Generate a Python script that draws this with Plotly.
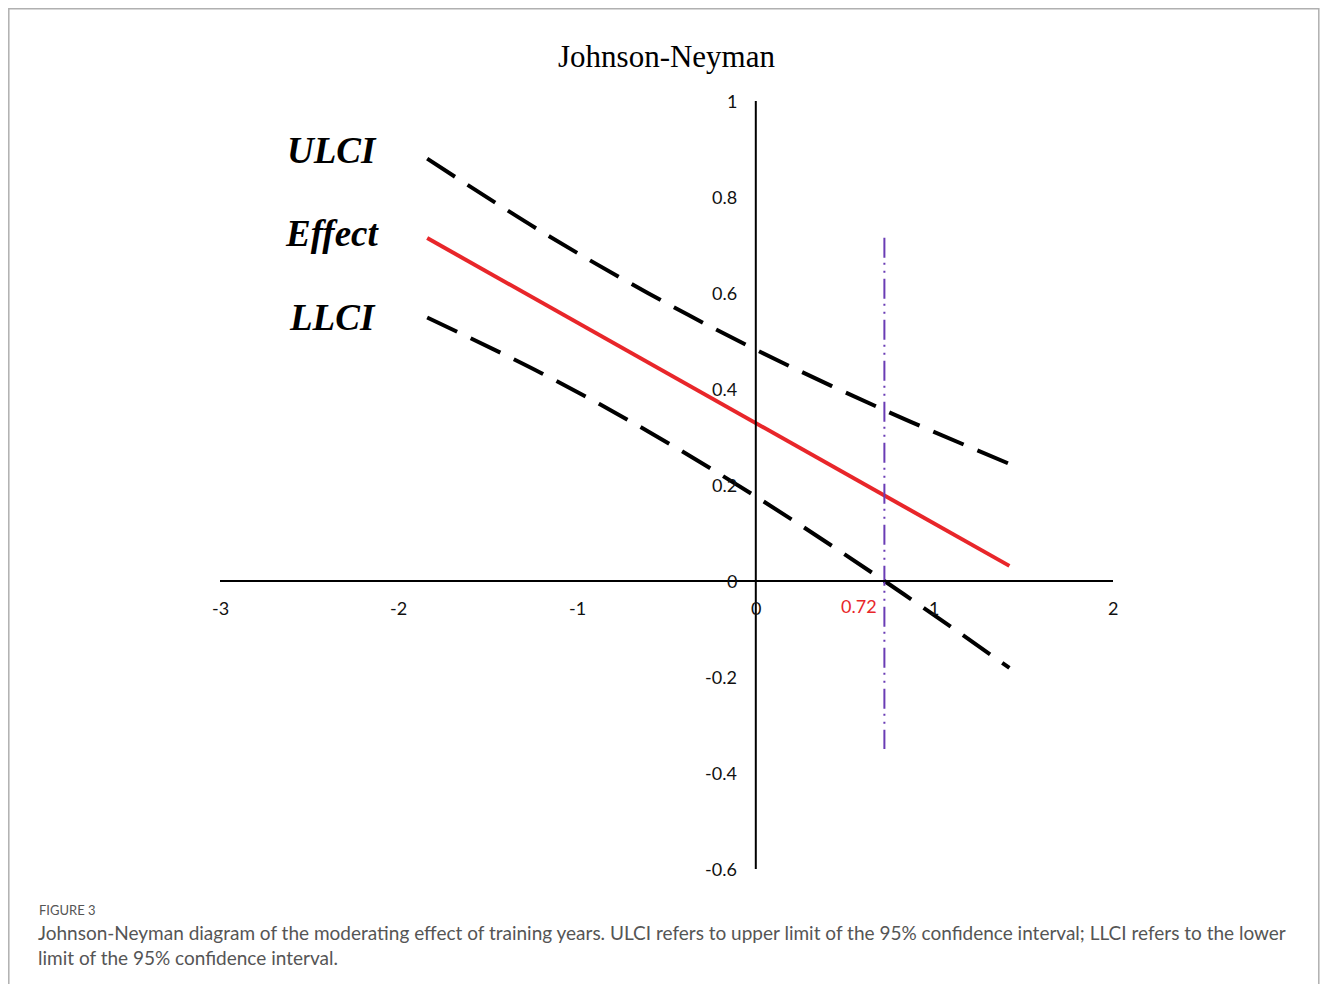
import plotly.graph_objects as go

# ---- data ----
moderator = [-1.84, -1.2, -0.6, 0.0, 0.72, 1.42]
effect = [0.7145, 0.5804, 0.4547, 0.329, 0.178, 0.0315]
ulci = [0.880, 0.728, 0.599, 0.482, 0.356, 0.244]
llci = [0.549, 0.433, 0.311, 0.176, 0.000, -0.181]
jn_point = 0.72
jn_line_y = [0.715, -0.35]
x_ticks = [-3, -2, -1, 0, 1, 2]
y_ticks = [1, 0.8, 0.6, 0.4, 0.2, 0, -0.2, -0.4, -0.6]
y_tick_labels = ["1", "0.8", "0.6", "0.4", "0.2", "0", "-0.2", "-0.4", "-0.6"]
series_labels = ["ULCI", "Effect", "LLCI"]
label_y = [0.8975, 0.725, 0.55]

# ---- layout geometry (reference pixels) ----
OFF = 8
W, H = 1328 - 2 * OFF, 992 - 2 * OFF
PL, PR, PT, PB = 220, 1113, 101, 869  # plot area in reference px
ml, mt = PL - OFF, PT - OFF
pw, ph = PR - PL, PB - PT
mr = W - ml - pw
mb = H - mt - ph


def px(xr):
    return (xr - PL) / pw


def py(yr):
    return (PB - yr) / ph


RED = "#e8262a"
PURPLE = "#6a3cb5"
TICKFONT = dict(family="Lato, Carlito, sans-serif", size=18, color="#111")

fig = go.Figure()
fig.add_trace(go.Scatter(x=moderator, y=ulci, mode="lines", line=dict(color="black", width=4, dash="33px,15px", shape="spline"), hoverinfo="skip"))
fig.add_trace(go.Scatter(x=moderator, y=effect, mode="lines", line=dict(color=RED, width=4), hoverinfo="skip"))
fig.add_trace(go.Scatter(x=moderator, y=llci, mode="lines", line=dict(color="black", width=4, dash="33px,15px", shape="spline"), hoverinfo="skip"))
fig.add_trace(go.Scatter(x=[jn_point, jn_point], y=jn_line_y, mode="lines", line=dict(color=PURPLE, width=2, dash="20px,5px,2px,6px,2px,6px"), hoverinfo="skip"))

shapes = [
    dict(type="line", xref="x", yref="y", x0=x_ticks[0], x1=x_ticks[-1], y0=0, y1=0, line=dict(color="black", width=2)),
    dict(type="line", xref="x", yref="y", x0=0, x1=0, y0=y_ticks[-1], y1=y_ticks[0], line=dict(color="black", width=2)),
    dict(type="path", xref="paper", yref="paper",
         path=f"M {px(8.8)},{py(1010)} L {px(8.8)},{py(8.8)} L {px(1318.8)},{py(8.8)} L {px(1318.8)},{py(1010)}",
         line=dict(color="#b0b0b0", width=1.5)),
]

ann = []
for v in x_ticks:
    ann.append(dict(x=v, y=0, xref="x", yref="y", text=str(v), showarrow=False, yshift=-27, font=TICKFONT))
for v, t in zip(y_ticks, y_tick_labels):
    ann.append(dict(x=0, y=v, xref="x", yref="y", text=t, showarrow=False, xanchor="right", xshift=-17, font=TICKFONT))
ann.append(dict(x=jn_point, y=0, xref="x", yref="y", text=str(jn_point), showarrow=False, xanchor="right", xshift=-5, yshift=-25,
                font=dict(family="Lato, sans-serif", size=18, color=RED)))
for t, yv in zip(series_labels, label_y):
    ann.append(dict(x=px(332), y=yv, xref="paper", yref="y", text=f"<b><i>{t}</i></b>", showarrow=False,
                    xanchor="center", yanchor="middle",
                    font=dict(family="Liberation Serif, Times New Roman, serif", size=37, color="black")))
ann.append(dict(x=px(666), y=py(56), xref="paper", yref="paper", text="Johnson-Neyman", showarrow=False,
                xanchor="center", yanchor="middle",
                font=dict(family="Liberation Serif, Times New Roman, serif", size=31, color="black")))
ann.append(dict(x=px(37), y=py(910), xref="paper", yref="paper", xanchor="left", yanchor="middle", text="FIGURE 3", showarrow=False,
                font=dict(family="Lato, sans-serif", size=13, color="#555")))
ann.append(dict(x=px(36), y=py(945), xref="paper", yref="paper", xanchor="left", yanchor="middle", align="left", showarrow=False,
                text="Johnson-Neyman diagram of the moderating effect of training years. ULCI refers to upper limit of the 95% confidence interval; LLCI refers to the lower<br>limit of the 95% confidence interval.",
                font=dict(family="Lato, sans-serif", size=19, color="#555")))

fig.update_layout(
    width=W, height=H,
    margin=dict(l=ml, r=mr, t=mt, b=mb, pad=0),
    paper_bgcolor="white", plot_bgcolor="white",
    showlegend=False,
    xaxis=dict(range=[x_ticks[0], x_ticks[-1]], visible=False, fixedrange=True),
    yaxis=dict(range=[y_ticks[-1], y_ticks[0]], visible=False, fixedrange=True),
    shapes=shapes, annotations=ann,
)
fig.write_html("out.html")
